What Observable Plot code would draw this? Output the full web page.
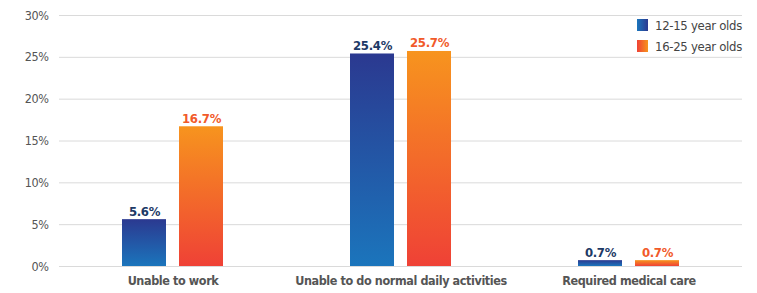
<!DOCTYPE html>
<html>
<head>
<meta charset="utf-8">
<script src="https://cdn.jsdelivr.net/npm/d3@7"></script>
<script src="https://cdn.jsdelivr.net/npm/@observablehq/plot@0.6"></script>
<style>
  html, body { margin: 0; padding: 0; background: #fff; }
  #chart svg { display: block; }
</style>
</head>
<body>
<div id="chart"></div>
<script>
const categories = ["Unable to work", "Unable to do normal daily activities", "Required medical care"];
const groups = ["12-15 year olds", "16-25 year olds"];
const values1215 = [5.6, 25.4, 0.7];
const values1625 = [16.7, 25.7, 0.7];
const yTicks = [0, 5, 10, 15, 20, 25, 30];

const data = [];
categories.forEach((c, i) => {
  data.push({category: c, group: groups[0], value: values1215[i]});
  data.push({category: c, group: groups[1], value: values1625[i]});
});
const blue = data.filter(d => d.group === groups[0]);
const orange = data.filter(d => d.group === groups[1]);

const FONT = "'DejaVu Sans Condensed', 'Liberation Sans Narrow', sans-serif";

const chart = Plot.plot({
  width: 757,
  height: 293,
  marginLeft: 59,
  marginRight: 15,
  marginTop: 15,
  marginBottom: 27,
  style: {fontFamily: FONT, background: "#fff"},
  x: {domain: categories, paddingInner: 0.557, paddingOuter: 0.276, label: null, tickSize: 0, tickPadding: 10},
  y: {domain: [0, 30], ticks: yTicks, tickFormat: d => d + "%", label: null, tickSize: 0, tickPadding: 11},
  marks: [
    Plot.ruleY(yTicks, {stroke: "#dadada", strokeWidth: 1}),
    Plot.barY(blue, {x: "category", y: "value", fill: "url(#gradBlue)", insetRight: 57}),
    Plot.barY(orange, {x: "category", y: "value", fill: "url(#gradOrange)", insetLeft: 57}),
    Plot.text(blue, {x: "category", y: "value", text: d => d.value.toFixed(1) + "%", dx: -28.5, dy: -4, lineAnchor: "bottom", fill: "#1d3a66", fontWeight: "bold", fontSize: 13}),
    Plot.text(orange, {x: "category", y: "value", text: d => d.value.toFixed(1) + "%", dx: 28.5, dy: -4, lineAnchor: "bottom", fill: "#f15a29", fontWeight: "bold", fontSize: 13})
  ]
});

const svg = d3.select(chart);
const defs = svg.insert("defs", ":first-child");
const gb = defs.append("linearGradient").attr("id", "gradBlue").attr("x1", 0).attr("y1", 0).attr("x2", 0).attr("y2", 1);
gb.append("stop").attr("offset", "0%").attr("stop-color", "#2b3990");
gb.append("stop").attr("offset", "100%").attr("stop-color", "#1b75bc");
const go = defs.append("linearGradient").attr("id", "gradOrange").attr("x1", 0).attr("y1", 0).attr("x2", 0).attr("y2", 1);
go.append("stop").attr("offset", "0%").attr("stop-color", "#f7941e");
go.append("stop").attr("offset", "100%").attr("stop-color", "#ef4136");
const gbl = defs.append("linearGradient").attr("id", "gradBlueLeg").attr("x1", 0).attr("y1", 0).attr("x2", 1).attr("y2", 0);
gbl.append("stop").attr("offset", "0%").attr("stop-color", "#1b75bc");
gbl.append("stop").attr("offset", "100%").attr("stop-color", "#2b3990");
const gol = defs.append("linearGradient").attr("id", "gradOrangeLeg").attr("x1", 0).attr("y1", 0).attr("x2", 1).attr("y2", 0);
gol.append("stop").attr("offset", "0%").attr("stop-color", "#ef4136");
gol.append("stop").attr("offset", "100%").attr("stop-color", "#f7941e");

// axis text styling
svg.selectAll("[aria-label='y-axis tick label'] text").attr("font-size", 12.5).attr("fill", "#555").attr("letter-spacing", -0.4);
svg.selectAll("[aria-label='x-axis tick label'] text").attr("font-size", 12.5).attr("font-weight", "bold").attr("fill", "#555").attr("letter-spacing", -0.4);
svg.selectAll("[aria-label='text'] text").attr("letter-spacing", -0.3);

// legend
const leg = svg.append("g").attr("font-family", FONT).attr("font-size", 13).attr("fill", "#444").attr("text-anchor", "start");
const legFills = ["url(#gradBlueLeg)", "url(#gradOrangeLeg)"];
groups.forEach((g, i) => {
  leg.append("rect").attr("x", 637).attr("y", 19 + i * 21).attr("width", 11).attr("height", 12).attr("fill", legFills[i]);
  leg.append("text").attr("x", 655).attr("y", 25 + i * 21).attr("dy", "0.35em").attr("letter-spacing", -0.3).text(g);
});

document.getElementById("chart").appendChild(chart);
</script>
</body>
</html>
